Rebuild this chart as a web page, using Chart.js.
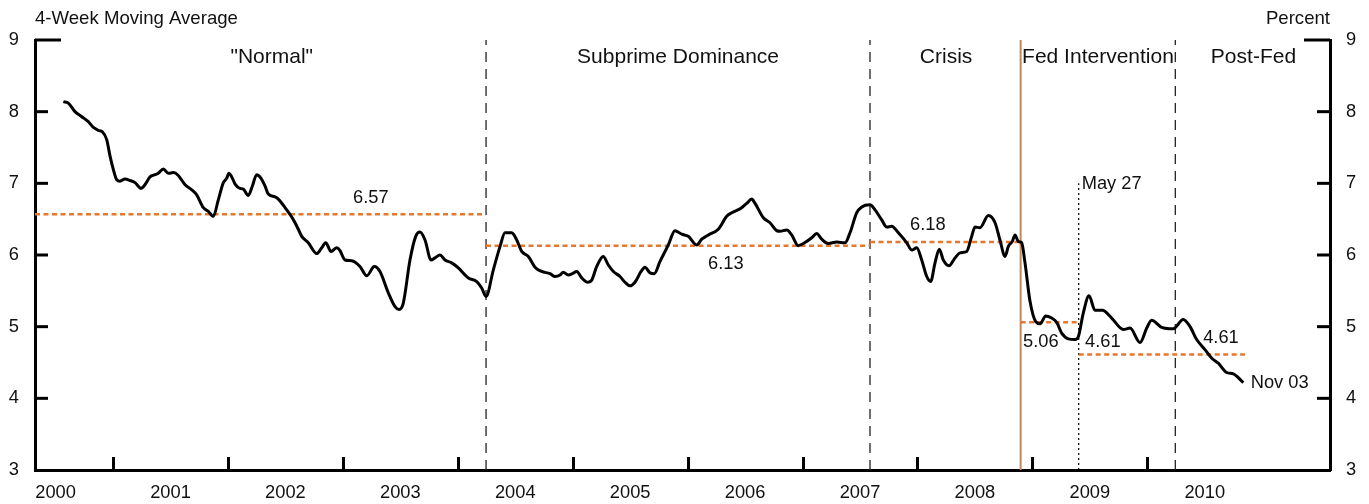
<!DOCTYPE html>
<html><head><meta charset="utf-8">
<script src="https://cdn.jsdelivr.net/npm/chart.js@4.4.1/dist/chart.umd.min.js"></script>
<style>html,body{margin:0;padding:0;background:#fff;}#wrap{width:1369px;height:504px;position:relative;}</style>
</head><body><div id="wrap"><canvas id="c"></canvas></div>
<script>
// ---- Data (decimal years, percent) ----
const weekDates = [
2000.568,2000.611,2000.669,2000.728,2000.785,2000.829,2000.872,2000.907,2000.945,2000.974,
2001.003,2001.032,2001.061,2001.104,2001.148,2001.191,2001.244,2001.278,2001.322,2001.365,
2001.394,2001.438,2001.481,2001.525,2001.568,2001.627,2001.685,2001.728,2001.786,2001.829,
2001.873,2001.916,2001.960,2001.989,2002.009,2002.033,2002.062,2002.105,2002.134,2002.177,
2002.212,2002.250,2002.288,2002.323,2002.351,2002.410,2002.438,2002.497,2002.555,2002.584,
2002.627,2002.642,2002.699,2002.773,2002.816,2002.851,2002.897,2002.947,2002.975,2003.019,
2003.077,2003.149,2003.208,2003.274,2003.323,2003.396,2003.454,2003.489,2003.526,2003.584,
2003.634,2003.671,2003.715,2003.767,2003.802,2003.845,2003.889,2003.947,2004.005,2004.092,
2004.165,2004.208,2004.246,2004.309,2004.368,2004.411,2004.469,2004.513,2004.556,2004.614,
2004.672,2004.730,2004.803,2004.846,2004.890,2004.918,2004.962,2004.997,2005.035,2005.079,
2005.131,2005.166,2005.209,2005.266,2005.310,2005.354,2005.412,2005.455,2005.499,2005.542,
2005.595,2005.629,2005.673,2005.710,2005.760,2005.832,2005.890,2005.949,2006.006,2006.079,
2006.123,2006.180,2006.267,2006.340,2006.384,2006.471,2006.514,2006.558,2006.587,2006.659,
2006.717,2006.775,2006.804,2006.862,2006.906,2006.963,2007.007,2007.080,2007.123,2007.167,
2007.224,2007.298,2007.370,2007.413,2007.472,2007.515,2007.587,2007.631,2007.689,2007.733,
2007.776,2007.834,2007.907,2007.950,2007.994,2008.037,2008.081,2008.115,2008.153,2008.190,
2008.225,2008.275,2008.327,2008.370,2008.429,2008.472,2008.501,2008.544,2008.617,2008.675,
2008.718,2008.762,2008.791,2008.826,2008.849,2008.878,2008.907,2008.936,2008.980,2009.029,
2009.067,2009.116,2009.168,2009.212,2009.255,2009.313,2009.371,2009.400,2009.443,2009.493,
2009.545,2009.609,2009.690,2009.791,2009.850,2009.937,2009.995,2010.038,2010.125,2010.226,
2010.313,2010.372,2010.430,2010.502,2010.561,2010.618,2010.691,2010.749,2010.836
];
const rates = [
8.14,8.12,8.00,7.93,7.86,7.78,7.74,7.72,7.61,7.38,
7.19,7.05,7.03,7.06,7.04,7.01,6.93,6.98,7.09,7.12,
7.14,7.20,7.14,7.15,7.11,6.98,6.91,6.84,6.66,6.61,
6.54,6.77,7.01,7.07,7.14,7.09,6.99,6.93,6.92,6.83,
6.96,7.12,7.07,6.96,6.85,6.81,6.78,6.66,6.53,6.45,
6.31,6.26,6.17,6.02,6.10,6.17,6.05,6.10,6.06,5.93,
5.92,5.84,5.71,5.84,5.77,5.47,5.28,5.24,5.33,5.93,
6.26,6.32,6.21,5.93,5.96,6.00,5.93,5.89,5.82,5.68,
5.63,5.54,5.42,5.79,6.12,6.31,6.31,6.21,6.05,5.98,
5.83,5.77,5.74,5.70,5.72,5.76,5.72,5.74,5.77,5.68,
5.62,5.65,5.84,5.98,5.86,5.77,5.70,5.62,5.57,5.62,
5.77,5.83,5.75,5.74,5.91,6.14,6.34,6.29,6.26,6.14,
6.22,6.28,6.36,6.54,6.59,6.66,6.72,6.78,6.72,6.52,
6.45,6.34,6.33,6.35,6.28,6.13,6.16,6.24,6.30,6.22,
6.16,6.18,6.17,6.31,6.59,6.67,6.70,6.63,6.49,6.39,
6.40,6.31,6.17,6.07,6.10,5.93,5.70,5.63,5.89,6.08,
5.93,5.85,5.96,6.03,6.05,6.26,6.39,6.38,6.55,6.45,
6.21,5.98,6.12,6.19,6.28,6.19,6.17,5.89,5.35,5.07,
5.04,5.15,5.12,5.06,4.91,4.83,4.82,4.86,5.19,5.43,
5.23,5.23,5.12,4.96,4.98,4.78,4.98,5.09,4.99,4.97,
5.10,5.00,4.82,4.68,4.56,4.49,4.36,4.34,4.22
];
const periodNames = ['"Normal"','Subprime Dominance','Crisis','Fed Intervention','Post-Fed'];
const periodStart = [2000.321, 2004.246, 2007.587, 2008.898, 2009.403];
const periodEnd   = [2004.246, 2007.587, 2008.898, 2009.403, 2010.850];
const periodMean  = [6.57, 6.13, 6.18, 5.06, 4.61];
const regimeBreaks = [2004.246, 2007.587, 2010.244];
const fedStart = 2008.898;
const may27 = 2009.403;
const yearLabels = [2000,2001,2002,2003,2004,2005,2006,2007,2008,2009,2010];
const yearTicks = [2001,2002,2003,2004,2005,2006,2007,2008,2009,2010];
const yTicks = [3,4,5,6,7,8,9];
const X_MIN = 2000.321, X_MAX = 2011.59, Y_MIN = 3, Y_MAX = 9;

// ---- Styles ----
const FONT = "'Liberation Sans', Arial, Helvetica, sans-serif";
const ORANGE = '#e8772e';
const TXT = '#111111';
Chart.defaults.font.family = FONT;

const datasets = [];
datasets.push({
  data: weekDates.map((d,i)=>({x:d,y:rates[i]})),
  borderColor:'#000', borderWidth:3, pointRadius:0, cubicInterpolationMode:'monotone', fill:false
});
periodMean.forEach((m,i)=>{
  datasets.push({data:[{x:periodStart[i],y:m},{x:periodEnd[i],y:m}],
    borderColor:ORANGE, borderWidth:2.5, borderDash:[5,3.5], pointRadius:0, fill:false});
});
regimeBreaks.forEach(b=>{
  datasets.push({data:[{x:b,y:Y_MIN},{x:b,y:Y_MAX}], borderColor:'#222', borderWidth:1.3,
    borderDash:[10,7], pointRadius:0, fill:false});
});
datasets.push({data:[{x:fedStart,y:Y_MIN},{x:fedStart,y:Y_MAX}], borderColor:'#c0895c', borderWidth:2, pointRadius:0, fill:false});
datasets.push({data:[{x:may27,y:Y_MIN},{x:may27,y:7.0}], borderColor:'#111', borderWidth:1.3, borderDash:[2,3], pointRadius:0, fill:false});

const labelSpecs = [
  {t:periodNames[0], x:2002.381, y:8.754, size:21},
  {t:periodNames[1], x:2005.917, y:8.754, size:21},
  {t:periodNames[2], x:2008.249, y:8.754, size:21},
  {t:periodNames[3], x:2009.571, y:8.754, size:21},
  {t:periodNames[4], x:2010.924, y:8.754, size:21},
  {t:periodMean[0].toFixed(2), x:2003.243, y:6.795, size:18.3},
  {t:periodMean[1].toFixed(2), x:2006.332, y:5.870, size:18.3},
  {t:periodMean[2].toFixed(2), x:2008.090, y:6.426, size:18.3},
  {t:periodMean[3].toFixed(2), x:2009.073, y:4.792, size:18.3},
  {t:periodMean[4].toFixed(2), x:2009.613, y:4.792, size:18.3},
  {t:periodMean[4].toFixed(2), x:2010.641, y:4.839, size:18.3},
  {t:'May 27', x:2009.429, y:6.994, size:18.3, align:'left'},
  {t:'Nov 03', x:2010.900, y:4.211, size:18.3, align:'left'}
];

const decor = {
  id:'decor',
  afterDraw(chart){
    const {ctx, chartArea:a, scales:{x,y}} = chart;
    ctx.save();
    ctx.strokeStyle='#000'; ctx.lineWidth=3; ctx.lineCap='butt';
    yearTicks.forEach(t=>{
      const px = Math.round(x.getPixelForValue(t));
      ctx.beginPath(); ctx.moveTo(px+0.5, a.bottom); ctx.lineTo(px+0.5, a.bottom-13); ctx.stroke();
    });
    yTicks.forEach(t=>{
      if (t===Y_MIN) return;
      const py = y.getPixelForValue(t);
      const len = t===Y_MAX ? 26 : 13;
      ctx.beginPath(); ctx.moveTo(a.left, py); ctx.lineTo(a.left+len, py); ctx.stroke();
      ctx.beginPath(); ctx.moveTo(a.right, py); ctx.lineTo(a.right-len, py); ctx.stroke();
    });
    ctx.fillStyle = TXT; ctx.textBaseline='middle';
    labelSpecs.forEach(s=>{
      ctx.font = s.size+'px '+FONT;
      ctx.textAlign = s.align||'center';
      ctx.fillText(s.t, x.getPixelForValue(s.x), y.getPixelForValue(s.y));
    });
    ctx.font = '18.6px '+FONT;
    ctx.textAlign='left'; ctx.fillText('4-Week Moving Average', a.left, 18.5);
    ctx.textAlign='right'; ctx.fillText('Percent', a.right, 18.5);
    ctx.restore();
  }
};

const yScaleBase = (pos, w) => ({
  type:'linear', position:pos, min:Y_MIN, max:Y_MAX,
  afterBuildTicks(s){ s.ticks = yTicks.map(v=>({value:v})); },
  afterFit(s){ s.width = w; },
  ticks:{ color:TXT, font:{size:18.3}, padding:16, callback:v=>String(v) },
  grid:{ display:false, drawTicks:false },
  border:{ display:true, color:'#000', width:3 }
});

new Chart(document.getElementById('c'), {
  type:'line',
  data:{ datasets },
  options:{
    responsive:true, maintainAspectRatio:false, animation:false,
    layout:{ padding:{ top:40, left:0, right:0, bottom:0 } },
    plugins:{ legend:{display:false}, tooltip:{enabled:false} },
    scales:{
      x:{
        type:'linear', position:'bottom', min:X_MIN, max:X_MAX,
        afterBuildTicks(s){ s.ticks = yearLabels.map(v=>({value:v+0.5})); },
        afterFit(s){ s.height = 34; },
        ticks:{ color:TXT, font:{size:18.3}, padding:11.5, maxRotation:0, autoSkip:false,
          callback:v=>String(Math.floor(v)) },
        grid:{ display:false, drawTicks:false },
        border:{ display:true, color:'#000', width:3 }
      },
      y: yScaleBase('left', 35),
      y2: yScaleBase('right', 39)
    }
  },
  plugins:[decor]
});
</script></body></html>
